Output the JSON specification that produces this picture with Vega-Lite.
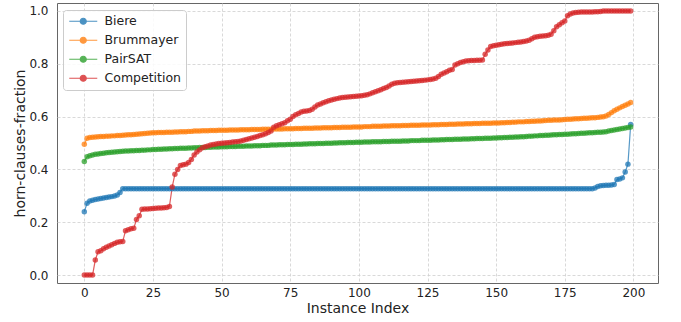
{
"$schema":"https://vega.github.io/schema/vega-lite/v6.json",
"width":601,"height":280,
"autosize":{"type":"none"},
"padding":{"left":57,"top":3,"right":23,"bottom":39},
"background":"white",
"config":{
"view":{"stroke":"#666666","strokeWidth":1},
"axis":{"grid":true,"gridDash":[3,2],"gridColor":"#cfcfcf","gridWidth":0.8,"domain":false,"ticks":false,"tickSize":0,"labelFont":"DejaVu Sans","labelFontSize":12,"labelColor":"#222222","titleFont":"DejaVu Sans","titleFontSize":14,"titleFontWeight":"normal","titleColor":"#222222","labelFlush":false},
"legend":{"labelFont":"DejaVu Sans","labelFontSize":12.5,"labelColor":"#222222","labelLimit":300}
},
"data":{"values":[
{"i":0,"s":"Biere","v":0.24},{"i":1,"s":"Biere","v":0.272},{"i":2,"s":"Biere","v":0.28},{"i":3,"s":"Biere","v":0.283},{"i":4,"s":"Biere","v":0.286},{"i":5,"s":"Biere","v":0.288},{"i":6,"s":"Biere","v":0.29},{"i":7,"s":"Biere","v":0.292},{"i":8,"s":"Biere","v":0.294},{"i":9,"s":"Biere","v":0.296},
{"i":10,"s":"Biere","v":0.297},{"i":11,"s":"Biere","v":0.299},{"i":12,"s":"Biere","v":0.303},{"i":13,"s":"Biere","v":0.313},{"i":14,"s":"Biere","v":0.327},{"i":15,"s":"Biere","v":0.327},{"i":16,"s":"Biere","v":0.327},{"i":17,"s":"Biere","v":0.327},{"i":18,"s":"Biere","v":0.327},{"i":19,"s":"Biere","v":0.327},
{"i":20,"s":"Biere","v":0.327},{"i":21,"s":"Biere","v":0.327},{"i":22,"s":"Biere","v":0.327},{"i":23,"s":"Biere","v":0.327},{"i":24,"s":"Biere","v":0.327},{"i":25,"s":"Biere","v":0.327},{"i":26,"s":"Biere","v":0.327},{"i":27,"s":"Biere","v":0.327},{"i":28,"s":"Biere","v":0.327},{"i":29,"s":"Biere","v":0.327},
{"i":30,"s":"Biere","v":0.327},{"i":31,"s":"Biere","v":0.327},{"i":32,"s":"Biere","v":0.327},{"i":33,"s":"Biere","v":0.327},{"i":34,"s":"Biere","v":0.327},{"i":35,"s":"Biere","v":0.327},{"i":36,"s":"Biere","v":0.327},{"i":37,"s":"Biere","v":0.327},{"i":38,"s":"Biere","v":0.327},{"i":39,"s":"Biere","v":0.327},
{"i":40,"s":"Biere","v":0.327},{"i":41,"s":"Biere","v":0.327},{"i":42,"s":"Biere","v":0.327},{"i":43,"s":"Biere","v":0.327},{"i":44,"s":"Biere","v":0.327},{"i":45,"s":"Biere","v":0.327},{"i":46,"s":"Biere","v":0.327},{"i":47,"s":"Biere","v":0.327},{"i":48,"s":"Biere","v":0.327},{"i":49,"s":"Biere","v":0.327},
{"i":50,"s":"Biere","v":0.327},{"i":51,"s":"Biere","v":0.327},{"i":52,"s":"Biere","v":0.327},{"i":53,"s":"Biere","v":0.327},{"i":54,"s":"Biere","v":0.327},{"i":55,"s":"Biere","v":0.327},{"i":56,"s":"Biere","v":0.327},{"i":57,"s":"Biere","v":0.327},{"i":58,"s":"Biere","v":0.327},{"i":59,"s":"Biere","v":0.327},
{"i":60,"s":"Biere","v":0.327},{"i":61,"s":"Biere","v":0.327},{"i":62,"s":"Biere","v":0.327},{"i":63,"s":"Biere","v":0.327},{"i":64,"s":"Biere","v":0.327},{"i":65,"s":"Biere","v":0.327},{"i":66,"s":"Biere","v":0.327},{"i":67,"s":"Biere","v":0.327},{"i":68,"s":"Biere","v":0.327},{"i":69,"s":"Biere","v":0.327},
{"i":70,"s":"Biere","v":0.327},{"i":71,"s":"Biere","v":0.327},{"i":72,"s":"Biere","v":0.327},{"i":73,"s":"Biere","v":0.327},{"i":74,"s":"Biere","v":0.327},{"i":75,"s":"Biere","v":0.327},{"i":76,"s":"Biere","v":0.327},{"i":77,"s":"Biere","v":0.327},{"i":78,"s":"Biere","v":0.327},{"i":79,"s":"Biere","v":0.327},
{"i":80,"s":"Biere","v":0.327},{"i":81,"s":"Biere","v":0.327},{"i":82,"s":"Biere","v":0.327},{"i":83,"s":"Biere","v":0.327},{"i":84,"s":"Biere","v":0.327},{"i":85,"s":"Biere","v":0.327},{"i":86,"s":"Biere","v":0.327},{"i":87,"s":"Biere","v":0.327},{"i":88,"s":"Biere","v":0.327},{"i":89,"s":"Biere","v":0.327},
{"i":90,"s":"Biere","v":0.327},{"i":91,"s":"Biere","v":0.327},{"i":92,"s":"Biere","v":0.327},{"i":93,"s":"Biere","v":0.327},{"i":94,"s":"Biere","v":0.327},{"i":95,"s":"Biere","v":0.327},{"i":96,"s":"Biere","v":0.327},{"i":97,"s":"Biere","v":0.327},{"i":98,"s":"Biere","v":0.327},{"i":99,"s":"Biere","v":0.327},
{"i":100,"s":"Biere","v":0.327},{"i":101,"s":"Biere","v":0.327},{"i":102,"s":"Biere","v":0.327},{"i":103,"s":"Biere","v":0.327},{"i":104,"s":"Biere","v":0.327},{"i":105,"s":"Biere","v":0.327},{"i":106,"s":"Biere","v":0.327},{"i":107,"s":"Biere","v":0.327},{"i":108,"s":"Biere","v":0.327},{"i":109,"s":"Biere","v":0.327},
{"i":110,"s":"Biere","v":0.327},{"i":111,"s":"Biere","v":0.327},{"i":112,"s":"Biere","v":0.327},{"i":113,"s":"Biere","v":0.327},{"i":114,"s":"Biere","v":0.327},{"i":115,"s":"Biere","v":0.327},{"i":116,"s":"Biere","v":0.327},{"i":117,"s":"Biere","v":0.327},{"i":118,"s":"Biere","v":0.327},{"i":119,"s":"Biere","v":0.327},
{"i":120,"s":"Biere","v":0.327},{"i":121,"s":"Biere","v":0.327},{"i":122,"s":"Biere","v":0.327},{"i":123,"s":"Biere","v":0.327},{"i":124,"s":"Biere","v":0.327},{"i":125,"s":"Biere","v":0.327},{"i":126,"s":"Biere","v":0.327},{"i":127,"s":"Biere","v":0.327},{"i":128,"s":"Biere","v":0.327},{"i":129,"s":"Biere","v":0.327},
{"i":130,"s":"Biere","v":0.327},{"i":131,"s":"Biere","v":0.327},{"i":132,"s":"Biere","v":0.327},{"i":133,"s":"Biere","v":0.327},{"i":134,"s":"Biere","v":0.327},{"i":135,"s":"Biere","v":0.327},{"i":136,"s":"Biere","v":0.327},{"i":137,"s":"Biere","v":0.327},{"i":138,"s":"Biere","v":0.327},{"i":139,"s":"Biere","v":0.327},
{"i":140,"s":"Biere","v":0.327},{"i":141,"s":"Biere","v":0.327},{"i":142,"s":"Biere","v":0.327},{"i":143,"s":"Biere","v":0.327},{"i":144,"s":"Biere","v":0.327},{"i":145,"s":"Biere","v":0.327},{"i":146,"s":"Biere","v":0.327},{"i":147,"s":"Biere","v":0.327},{"i":148,"s":"Biere","v":0.327},{"i":149,"s":"Biere","v":0.327},
{"i":150,"s":"Biere","v":0.327},{"i":151,"s":"Biere","v":0.327},{"i":152,"s":"Biere","v":0.327},{"i":153,"s":"Biere","v":0.327},{"i":154,"s":"Biere","v":0.327},{"i":155,"s":"Biere","v":0.327},{"i":156,"s":"Biere","v":0.327},{"i":157,"s":"Biere","v":0.327},{"i":158,"s":"Biere","v":0.327},{"i":159,"s":"Biere","v":0.327},
{"i":160,"s":"Biere","v":0.327},{"i":161,"s":"Biere","v":0.327},{"i":162,"s":"Biere","v":0.327},{"i":163,"s":"Biere","v":0.327},{"i":164,"s":"Biere","v":0.327},{"i":165,"s":"Biere","v":0.327},{"i":166,"s":"Biere","v":0.327},{"i":167,"s":"Biere","v":0.327},{"i":168,"s":"Biere","v":0.327},{"i":169,"s":"Biere","v":0.327},
{"i":170,"s":"Biere","v":0.327},{"i":171,"s":"Biere","v":0.327},{"i":172,"s":"Biere","v":0.327},{"i":173,"s":"Biere","v":0.327},{"i":174,"s":"Biere","v":0.327},{"i":175,"s":"Biere","v":0.327},{"i":176,"s":"Biere","v":0.327},{"i":177,"s":"Biere","v":0.327},{"i":178,"s":"Biere","v":0.327},{"i":179,"s":"Biere","v":0.327},
{"i":180,"s":"Biere","v":0.327},{"i":181,"s":"Biere","v":0.327},{"i":182,"s":"Biere","v":0.327},{"i":183,"s":"Biere","v":0.327},{"i":184,"s":"Biere","v":0.327},{"i":185,"s":"Biere","v":0.327},{"i":186,"s":"Biere","v":0.33},{"i":187,"s":"Biere","v":0.335},{"i":188,"s":"Biere","v":0.338},{"i":189,"s":"Biere","v":0.339},
{"i":190,"s":"Biere","v":0.34},{"i":191,"s":"Biere","v":0.34},{"i":192,"s":"Biere","v":0.341},{"i":193,"s":"Biere","v":0.343},{"i":194,"s":"Biere","v":0.362},{"i":195,"s":"Biere","v":0.364},{"i":196,"s":"Biere","v":0.368},{"i":197,"s":"Biere","v":0.39},{"i":198,"s":"Biere","v":0.42},{"i":199,"s":"Biere","v":0.57},

{"i":0,"s":"Brummayer","v":0.495},{"i":1,"s":"Brummayer","v":0.518},{"i":2,"s":"Brummayer","v":0.521},{"i":3,"s":"Brummayer","v":0.522},{"i":4,"s":"Brummayer","v":0.523},{"i":5,"s":"Brummayer","v":0.524},{"i":6,"s":"Brummayer","v":0.525},{"i":7,"s":"Brummayer","v":0.525},{"i":8,"s":"Brummayer","v":0.526},{"i":9,"s":"Brummayer","v":0.526},
{"i":10,"s":"Brummayer","v":0.527},{"i":11,"s":"Brummayer","v":0.527},{"i":12,"s":"Brummayer","v":0.528},{"i":13,"s":"Brummayer","v":0.528},{"i":14,"s":"Brummayer","v":0.529},{"i":15,"s":"Brummayer","v":0.53},{"i":16,"s":"Brummayer","v":0.531},{"i":17,"s":"Brummayer","v":0.531},{"i":18,"s":"Brummayer","v":0.532},{"i":19,"s":"Brummayer","v":0.533},
{"i":20,"s":"Brummayer","v":0.534},{"i":21,"s":"Brummayer","v":0.535},{"i":22,"s":"Brummayer","v":0.536},{"i":23,"s":"Brummayer","v":0.537},{"i":24,"s":"Brummayer","v":0.538},{"i":25,"s":"Brummayer","v":0.539},{"i":26,"s":"Brummayer","v":0.539},{"i":27,"s":"Brummayer","v":0.54},{"i":28,"s":"Brummayer","v":0.54},{"i":29,"s":"Brummayer","v":0.54},
{"i":30,"s":"Brummayer","v":0.541},{"i":31,"s":"Brummayer","v":0.541},{"i":32,"s":"Brummayer","v":0.541},{"i":33,"s":"Brummayer","v":0.542},{"i":34,"s":"Brummayer","v":0.542},{"i":35,"s":"Brummayer","v":0.543},{"i":36,"s":"Brummayer","v":0.543},{"i":37,"s":"Brummayer","v":0.543},{"i":38,"s":"Brummayer","v":0.544},{"i":39,"s":"Brummayer","v":0.544},
{"i":40,"s":"Brummayer","v":0.545},{"i":41,"s":"Brummayer","v":0.545},{"i":42,"s":"Brummayer","v":0.545},{"i":43,"s":"Brummayer","v":0.546},{"i":44,"s":"Brummayer","v":0.546},{"i":45,"s":"Brummayer","v":0.546},{"i":46,"s":"Brummayer","v":0.547},{"i":47,"s":"Brummayer","v":0.547},{"i":48,"s":"Brummayer","v":0.547},{"i":49,"s":"Brummayer","v":0.548},
{"i":50,"s":"Brummayer","v":0.548},{"i":51,"s":"Brummayer","v":0.548},{"i":52,"s":"Brummayer","v":0.548},{"i":53,"s":"Brummayer","v":0.549},{"i":54,"s":"Brummayer","v":0.549},{"i":55,"s":"Brummayer","v":0.549},{"i":56,"s":"Brummayer","v":0.549},{"i":57,"s":"Brummayer","v":0.55},{"i":58,"s":"Brummayer","v":0.55},{"i":59,"s":"Brummayer","v":0.55},
{"i":60,"s":"Brummayer","v":0.55},{"i":61,"s":"Brummayer","v":0.551},{"i":62,"s":"Brummayer","v":0.551},{"i":63,"s":"Brummayer","v":0.551},{"i":64,"s":"Brummayer","v":0.551},{"i":65,"s":"Brummayer","v":0.552},{"i":66,"s":"Brummayer","v":0.552},{"i":67,"s":"Brummayer","v":0.552},{"i":68,"s":"Brummayer","v":0.552},{"i":69,"s":"Brummayer","v":0.553},
{"i":70,"s":"Brummayer","v":0.553},{"i":71,"s":"Brummayer","v":0.553},{"i":72,"s":"Brummayer","v":0.553},{"i":73,"s":"Brummayer","v":0.554},{"i":74,"s":"Brummayer","v":0.554},{"i":75,"s":"Brummayer","v":0.554},{"i":76,"s":"Brummayer","v":0.554},{"i":77,"s":"Brummayer","v":0.555},{"i":78,"s":"Brummayer","v":0.555},{"i":79,"s":"Brummayer","v":0.555},
{"i":80,"s":"Brummayer","v":0.556},{"i":81,"s":"Brummayer","v":0.556},{"i":82,"s":"Brummayer","v":0.556},{"i":83,"s":"Brummayer","v":0.556},{"i":84,"s":"Brummayer","v":0.557},{"i":85,"s":"Brummayer","v":0.557},{"i":86,"s":"Brummayer","v":0.557},{"i":87,"s":"Brummayer","v":0.558},{"i":88,"s":"Brummayer","v":0.558},{"i":89,"s":"Brummayer","v":0.558},
{"i":90,"s":"Brummayer","v":0.558},{"i":91,"s":"Brummayer","v":0.559},{"i":92,"s":"Brummayer","v":0.559},{"i":93,"s":"Brummayer","v":0.559},{"i":94,"s":"Brummayer","v":0.56},{"i":95,"s":"Brummayer","v":0.56},{"i":96,"s":"Brummayer","v":0.56},{"i":97,"s":"Brummayer","v":0.56},{"i":98,"s":"Brummayer","v":0.561},{"i":99,"s":"Brummayer","v":0.561},
{"i":100,"s":"Brummayer","v":0.561},{"i":101,"s":"Brummayer","v":0.561},{"i":102,"s":"Brummayer","v":0.562},{"i":103,"s":"Brummayer","v":0.562},{"i":104,"s":"Brummayer","v":0.562},{"i":105,"s":"Brummayer","v":0.563},{"i":106,"s":"Brummayer","v":0.563},{"i":107,"s":"Brummayer","v":0.563},{"i":108,"s":"Brummayer","v":0.563},{"i":109,"s":"Brummayer","v":0.564},
{"i":110,"s":"Brummayer","v":0.564},{"i":111,"s":"Brummayer","v":0.564},{"i":112,"s":"Brummayer","v":0.565},{"i":113,"s":"Brummayer","v":0.565},{"i":114,"s":"Brummayer","v":0.565},{"i":115,"s":"Brummayer","v":0.565},{"i":116,"s":"Brummayer","v":0.566},{"i":117,"s":"Brummayer","v":0.566},{"i":118,"s":"Brummayer","v":0.566},{"i":119,"s":"Brummayer","v":0.567},
{"i":120,"s":"Brummayer","v":0.567},{"i":121,"s":"Brummayer","v":0.567},{"i":122,"s":"Brummayer","v":0.567},{"i":123,"s":"Brummayer","v":0.568},{"i":124,"s":"Brummayer","v":0.568},{"i":125,"s":"Brummayer","v":0.568},{"i":126,"s":"Brummayer","v":0.568},{"i":127,"s":"Brummayer","v":0.569},{"i":128,"s":"Brummayer","v":0.569},{"i":129,"s":"Brummayer","v":0.569},
{"i":130,"s":"Brummayer","v":0.57},{"i":131,"s":"Brummayer","v":0.57},{"i":132,"s":"Brummayer","v":0.57},{"i":133,"s":"Brummayer","v":0.571},{"i":134,"s":"Brummayer","v":0.571},{"i":135,"s":"Brummayer","v":0.571},{"i":136,"s":"Brummayer","v":0.572},{"i":137,"s":"Brummayer","v":0.572},{"i":138,"s":"Brummayer","v":0.572},{"i":139,"s":"Brummayer","v":0.573},
{"i":140,"s":"Brummayer","v":0.573},{"i":141,"s":"Brummayer","v":0.573},{"i":142,"s":"Brummayer","v":0.574},{"i":143,"s":"Brummayer","v":0.574},{"i":144,"s":"Brummayer","v":0.574},{"i":145,"s":"Brummayer","v":0.575},{"i":146,"s":"Brummayer","v":0.575},{"i":147,"s":"Brummayer","v":0.575},{"i":148,"s":"Brummayer","v":0.575},{"i":149,"s":"Brummayer","v":0.576},
{"i":150,"s":"Brummayer","v":0.576},{"i":151,"s":"Brummayer","v":0.576},{"i":152,"s":"Brummayer","v":0.577},{"i":153,"s":"Brummayer","v":0.577},{"i":154,"s":"Brummayer","v":0.578},{"i":155,"s":"Brummayer","v":0.578},{"i":156,"s":"Brummayer","v":0.579},{"i":157,"s":"Brummayer","v":0.579},{"i":158,"s":"Brummayer","v":0.58},{"i":159,"s":"Brummayer","v":0.58},
{"i":160,"s":"Brummayer","v":0.58},{"i":161,"s":"Brummayer","v":0.581},{"i":162,"s":"Brummayer","v":0.581},{"i":163,"s":"Brummayer","v":0.582},{"i":164,"s":"Brummayer","v":0.582},{"i":165,"s":"Brummayer","v":0.583},{"i":166,"s":"Brummayer","v":0.583},{"i":167,"s":"Brummayer","v":0.584},{"i":168,"s":"Brummayer","v":0.585},{"i":169,"s":"Brummayer","v":0.586},
{"i":170,"s":"Brummayer","v":0.586},{"i":171,"s":"Brummayer","v":0.587},{"i":172,"s":"Brummayer","v":0.587},{"i":173,"s":"Brummayer","v":0.587},{"i":174,"s":"Brummayer","v":0.588},{"i":175,"s":"Brummayer","v":0.589},{"i":176,"s":"Brummayer","v":0.59},{"i":177,"s":"Brummayer","v":0.59},{"i":178,"s":"Brummayer","v":0.591},{"i":179,"s":"Brummayer","v":0.592},
{"i":180,"s":"Brummayer","v":0.592},{"i":181,"s":"Brummayer","v":0.593},{"i":182,"s":"Brummayer","v":0.594},{"i":183,"s":"Brummayer","v":0.594},{"i":184,"s":"Brummayer","v":0.595},{"i":185,"s":"Brummayer","v":0.596},{"i":186,"s":"Brummayer","v":0.596},{"i":187,"s":"Brummayer","v":0.597},{"i":188,"s":"Brummayer","v":0.598},{"i":189,"s":"Brummayer","v":0.599},
{"i":190,"s":"Brummayer","v":0.602},{"i":191,"s":"Brummayer","v":0.608},{"i":192,"s":"Brummayer","v":0.615},{"i":193,"s":"Brummayer","v":0.622},{"i":194,"s":"Brummayer","v":0.628},{"i":195,"s":"Brummayer","v":0.633},{"i":196,"s":"Brummayer","v":0.638},{"i":197,"s":"Brummayer","v":0.643},{"i":198,"s":"Brummayer","v":0.648},{"i":199,"s":"Brummayer","v":0.653},

{"i":0,"s":"PairSAT","v":0.43},{"i":1,"s":"PairSAT","v":0.448},{"i":2,"s":"PairSAT","v":0.452},{"i":3,"s":"PairSAT","v":0.455},{"i":4,"s":"PairSAT","v":0.457},{"i":5,"s":"PairSAT","v":0.458},{"i":6,"s":"PairSAT","v":0.46},{"i":7,"s":"PairSAT","v":0.461},{"i":8,"s":"PairSAT","v":0.463},{"i":9,"s":"PairSAT","v":0.464},
{"i":10,"s":"PairSAT","v":0.465},{"i":11,"s":"PairSAT","v":0.466},{"i":12,"s":"PairSAT","v":0.467},{"i":13,"s":"PairSAT","v":0.468},{"i":14,"s":"PairSAT","v":0.469},{"i":15,"s":"PairSAT","v":0.47},{"i":16,"s":"PairSAT","v":0.47},{"i":17,"s":"PairSAT","v":0.471},{"i":18,"s":"PairSAT","v":0.471},{"i":19,"s":"PairSAT","v":0.472},
{"i":20,"s":"PairSAT","v":0.472},{"i":21,"s":"PairSAT","v":0.473},{"i":22,"s":"PairSAT","v":0.473},{"i":23,"s":"PairSAT","v":0.474},{"i":24,"s":"PairSAT","v":0.474},{"i":25,"s":"PairSAT","v":0.475},{"i":26,"s":"PairSAT","v":0.475},{"i":27,"s":"PairSAT","v":0.476},{"i":28,"s":"PairSAT","v":0.476},{"i":29,"s":"PairSAT","v":0.477},
{"i":30,"s":"PairSAT","v":0.477},{"i":31,"s":"PairSAT","v":0.478},{"i":32,"s":"PairSAT","v":0.478},{"i":33,"s":"PairSAT","v":0.479},{"i":34,"s":"PairSAT","v":0.479},{"i":35,"s":"PairSAT","v":0.48},{"i":36,"s":"PairSAT","v":0.48},{"i":37,"s":"PairSAT","v":0.48},{"i":38,"s":"PairSAT","v":0.481},{"i":39,"s":"PairSAT","v":0.481},
{"i":40,"s":"PairSAT","v":0.482},{"i":41,"s":"PairSAT","v":0.482},{"i":42,"s":"PairSAT","v":0.483},{"i":43,"s":"PairSAT","v":0.483},{"i":44,"s":"PairSAT","v":0.483},{"i":45,"s":"PairSAT","v":0.484},{"i":46,"s":"PairSAT","v":0.484},{"i":47,"s":"PairSAT","v":0.485},{"i":48,"s":"PairSAT","v":0.485},{"i":49,"s":"PairSAT","v":0.485},
{"i":50,"s":"PairSAT","v":0.486},{"i":51,"s":"PairSAT","v":0.486},{"i":52,"s":"PairSAT","v":0.486},{"i":53,"s":"PairSAT","v":0.487},{"i":54,"s":"PairSAT","v":0.487},{"i":55,"s":"PairSAT","v":0.487},{"i":56,"s":"PairSAT","v":0.488},{"i":57,"s":"PairSAT","v":0.488},{"i":58,"s":"PairSAT","v":0.488},{"i":59,"s":"PairSAT","v":0.489},
{"i":60,"s":"PairSAT","v":0.489},{"i":61,"s":"PairSAT","v":0.489},{"i":62,"s":"PairSAT","v":0.49},{"i":63,"s":"PairSAT","v":0.49},{"i":64,"s":"PairSAT","v":0.49},{"i":65,"s":"PairSAT","v":0.491},{"i":66,"s":"PairSAT","v":0.491},{"i":67,"s":"PairSAT","v":0.491},{"i":68,"s":"PairSAT","v":0.492},{"i":69,"s":"PairSAT","v":0.492},
{"i":70,"s":"PairSAT","v":0.492},{"i":71,"s":"PairSAT","v":0.493},{"i":72,"s":"PairSAT","v":0.493},{"i":73,"s":"PairSAT","v":0.493},{"i":74,"s":"PairSAT","v":0.494},{"i":75,"s":"PairSAT","v":0.494},{"i":76,"s":"PairSAT","v":0.494},{"i":77,"s":"PairSAT","v":0.495},{"i":78,"s":"PairSAT","v":0.495},{"i":79,"s":"PairSAT","v":0.495},
{"i":80,"s":"PairSAT","v":0.496},{"i":81,"s":"PairSAT","v":0.496},{"i":82,"s":"PairSAT","v":0.497},{"i":83,"s":"PairSAT","v":0.497},{"i":84,"s":"PairSAT","v":0.497},{"i":85,"s":"PairSAT","v":0.498},{"i":86,"s":"PairSAT","v":0.498},{"i":87,"s":"PairSAT","v":0.498},{"i":88,"s":"PairSAT","v":0.499},{"i":89,"s":"PairSAT","v":0.499},
{"i":90,"s":"PairSAT","v":0.499},{"i":91,"s":"PairSAT","v":0.5},{"i":92,"s":"PairSAT","v":0.5},{"i":93,"s":"PairSAT","v":0.501},{"i":94,"s":"PairSAT","v":0.501},{"i":95,"s":"PairSAT","v":0.501},{"i":96,"s":"PairSAT","v":0.502},{"i":97,"s":"PairSAT","v":0.502},{"i":98,"s":"PairSAT","v":0.502},{"i":99,"s":"PairSAT","v":0.503},
{"i":100,"s":"PairSAT","v":0.503},{"i":101,"s":"PairSAT","v":0.503},{"i":102,"s":"PairSAT","v":0.504},{"i":103,"s":"PairSAT","v":0.504},{"i":104,"s":"PairSAT","v":0.504},{"i":105,"s":"PairSAT","v":0.505},{"i":106,"s":"PairSAT","v":0.505},{"i":107,"s":"PairSAT","v":0.505},{"i":108,"s":"PairSAT","v":0.505},{"i":109,"s":"PairSAT","v":0.506},
{"i":110,"s":"PairSAT","v":0.506},{"i":111,"s":"PairSAT","v":0.506},{"i":112,"s":"PairSAT","v":0.507},{"i":113,"s":"PairSAT","v":0.507},{"i":114,"s":"PairSAT","v":0.507},{"i":115,"s":"PairSAT","v":0.507},{"i":116,"s":"PairSAT","v":0.508},{"i":117,"s":"PairSAT","v":0.508},{"i":118,"s":"PairSAT","v":0.508},{"i":119,"s":"PairSAT","v":0.509},
{"i":120,"s":"PairSAT","v":0.509},{"i":121,"s":"PairSAT","v":0.509},{"i":122,"s":"PairSAT","v":0.509},{"i":123,"s":"PairSAT","v":0.51},{"i":124,"s":"PairSAT","v":0.51},{"i":125,"s":"PairSAT","v":0.51},{"i":126,"s":"PairSAT","v":0.51},{"i":127,"s":"PairSAT","v":0.511},{"i":128,"s":"PairSAT","v":0.511},{"i":129,"s":"PairSAT","v":0.511},
{"i":130,"s":"PairSAT","v":0.512},{"i":131,"s":"PairSAT","v":0.512},{"i":132,"s":"PairSAT","v":0.513},{"i":133,"s":"PairSAT","v":0.513},{"i":134,"s":"PairSAT","v":0.513},{"i":135,"s":"PairSAT","v":0.514},{"i":136,"s":"PairSAT","v":0.514},{"i":137,"s":"PairSAT","v":0.514},{"i":138,"s":"PairSAT","v":0.515},{"i":139,"s":"PairSAT","v":0.515},
{"i":140,"s":"PairSAT","v":0.515},{"i":141,"s":"PairSAT","v":0.516},{"i":142,"s":"PairSAT","v":0.516},{"i":143,"s":"PairSAT","v":0.517},{"i":144,"s":"PairSAT","v":0.517},{"i":145,"s":"PairSAT","v":0.517},{"i":146,"s":"PairSAT","v":0.518},{"i":147,"s":"PairSAT","v":0.518},{"i":148,"s":"PairSAT","v":0.518},{"i":149,"s":"PairSAT","v":0.519},
{"i":150,"s":"PairSAT","v":0.519},{"i":151,"s":"PairSAT","v":0.52},{"i":152,"s":"PairSAT","v":0.52},{"i":153,"s":"PairSAT","v":0.521},{"i":154,"s":"PairSAT","v":0.521},{"i":155,"s":"PairSAT","v":0.522},{"i":156,"s":"PairSAT","v":0.522},{"i":157,"s":"PairSAT","v":0.523},{"i":158,"s":"PairSAT","v":0.523},{"i":159,"s":"PairSAT","v":0.524},
{"i":160,"s":"PairSAT","v":0.524},{"i":161,"s":"PairSAT","v":0.525},{"i":162,"s":"PairSAT","v":0.526},{"i":163,"s":"PairSAT","v":0.526},{"i":164,"s":"PairSAT","v":0.527},{"i":165,"s":"PairSAT","v":0.527},{"i":166,"s":"PairSAT","v":0.528},{"i":167,"s":"PairSAT","v":0.528},{"i":168,"s":"PairSAT","v":0.529},{"i":169,"s":"PairSAT","v":0.529},
{"i":170,"s":"PairSAT","v":0.53},{"i":171,"s":"PairSAT","v":0.531},{"i":172,"s":"PairSAT","v":0.531},{"i":173,"s":"PairSAT","v":0.532},{"i":174,"s":"PairSAT","v":0.532},{"i":175,"s":"PairSAT","v":0.533},{"i":176,"s":"PairSAT","v":0.533},{"i":177,"s":"PairSAT","v":0.534},{"i":178,"s":"PairSAT","v":0.535},{"i":179,"s":"PairSAT","v":0.535},
{"i":180,"s":"PairSAT","v":0.536},{"i":181,"s":"PairSAT","v":0.537},{"i":182,"s":"PairSAT","v":0.537},{"i":183,"s":"PairSAT","v":0.538},{"i":184,"s":"PairSAT","v":0.539},{"i":185,"s":"PairSAT","v":0.539},{"i":186,"s":"PairSAT","v":0.54},{"i":187,"s":"PairSAT","v":0.541},{"i":188,"s":"PairSAT","v":0.541},{"i":189,"s":"PairSAT","v":0.542},
{"i":190,"s":"PairSAT","v":0.543},{"i":191,"s":"PairSAT","v":0.545},{"i":192,"s":"PairSAT","v":0.547},{"i":193,"s":"PairSAT","v":0.549},{"i":194,"s":"PairSAT","v":0.551},{"i":195,"s":"PairSAT","v":0.553},{"i":196,"s":"PairSAT","v":0.555},{"i":197,"s":"PairSAT","v":0.557},{"i":198,"s":"PairSAT","v":0.559},{"i":199,"s":"PairSAT","v":0.561},

{"i":0,"s":"Competition","v":0},{"i":1,"s":"Competition","v":0},{"i":2,"s":"Competition","v":0},{"i":3,"s":"Competition","v":0},{"i":4,"s":"Competition","v":0.057},{"i":5,"s":"Competition","v":0.088},{"i":6,"s":"Competition","v":0.092},{"i":7,"s":"Competition","v":0.1},{"i":8,"s":"Competition","v":0.105},{"i":9,"s":"Competition","v":0.11},
{"i":10,"s":"Competition","v":0.115},{"i":11,"s":"Competition","v":0.12},{"i":12,"s":"Competition","v":0.124},{"i":13,"s":"Competition","v":0.126},{"i":14,"s":"Competition","v":0.127},{"i":15,"s":"Competition","v":0.168},{"i":16,"s":"Competition","v":0.172},{"i":17,"s":"Competition","v":0.175},{"i":18,"s":"Competition","v":0.177},{"i":19,"s":"Competition","v":0.21},
{"i":20,"s":"Competition","v":0.225},{"i":21,"s":"Competition","v":0.249},{"i":22,"s":"Competition","v":0.25},{"i":23,"s":"Competition","v":0.25},{"i":24,"s":"Competition","v":0.251},{"i":25,"s":"Competition","v":0.252},{"i":26,"s":"Competition","v":0.253},{"i":27,"s":"Competition","v":0.254},{"i":28,"s":"Competition","v":0.254},{"i":29,"s":"Competition","v":0.255},
{"i":30,"s":"Competition","v":0.256},{"i":31,"s":"Competition","v":0.26},{"i":32,"s":"Competition","v":0.333},{"i":33,"s":"Competition","v":0.382},{"i":34,"s":"Competition","v":0.4},{"i":35,"s":"Competition","v":0.415},{"i":36,"s":"Competition","v":0.418},{"i":37,"s":"Competition","v":0.42},{"i":38,"s":"Competition","v":0.426},{"i":39,"s":"Competition","v":0.438},
{"i":40,"s":"Competition","v":0.455},{"i":41,"s":"Competition","v":0.466},{"i":42,"s":"Competition","v":0.474},{"i":43,"s":"Competition","v":0.482},{"i":44,"s":"Competition","v":0.486},{"i":45,"s":"Competition","v":0.489},{"i":46,"s":"Competition","v":0.492},{"i":47,"s":"Competition","v":0.494},{"i":48,"s":"Competition","v":0.496},{"i":49,"s":"Competition","v":0.498},
{"i":50,"s":"Competition","v":0.499},{"i":51,"s":"Competition","v":0.5},{"i":52,"s":"Competition","v":0.501},{"i":53,"s":"Competition","v":0.502},{"i":54,"s":"Competition","v":0.504},{"i":55,"s":"Competition","v":0.505},{"i":56,"s":"Competition","v":0.506},{"i":57,"s":"Competition","v":0.508},{"i":58,"s":"Competition","v":0.51},{"i":59,"s":"Competition","v":0.513},
{"i":60,"s":"Competition","v":0.516},{"i":61,"s":"Competition","v":0.519},{"i":62,"s":"Competition","v":0.522},{"i":63,"s":"Competition","v":0.525},{"i":64,"s":"Competition","v":0.528},{"i":65,"s":"Competition","v":0.531},{"i":66,"s":"Competition","v":0.535},{"i":67,"s":"Competition","v":0.54},{"i":68,"s":"Competition","v":0.545},{"i":69,"s":"Competition","v":0.56},
{"i":70,"s":"Competition","v":0.565},{"i":71,"s":"Competition","v":0.569},{"i":72,"s":"Competition","v":0.573},{"i":73,"s":"Competition","v":0.577},{"i":74,"s":"Competition","v":0.584},{"i":75,"s":"Competition","v":0.59},{"i":76,"s":"Competition","v":0.6},{"i":77,"s":"Competition","v":0.607},{"i":78,"s":"Competition","v":0.612},{"i":79,"s":"Competition","v":0.617},
{"i":80,"s":"Competition","v":0.62},{"i":81,"s":"Competition","v":0.621},{"i":82,"s":"Competition","v":0.623},{"i":83,"s":"Competition","v":0.628},{"i":84,"s":"Competition","v":0.636},{"i":85,"s":"Competition","v":0.644},{"i":86,"s":"Competition","v":0.648},{"i":87,"s":"Competition","v":0.652},{"i":88,"s":"Competition","v":0.656},{"i":89,"s":"Competition","v":0.66},
{"i":90,"s":"Competition","v":0.663},{"i":91,"s":"Competition","v":0.666},{"i":92,"s":"Competition","v":0.668},{"i":93,"s":"Competition","v":0.67},{"i":94,"s":"Competition","v":0.672},{"i":95,"s":"Competition","v":0.673},{"i":96,"s":"Competition","v":0.674},{"i":97,"s":"Competition","v":0.675},{"i":98,"s":"Competition","v":0.676},{"i":99,"s":"Competition","v":0.677},
{"i":100,"s":"Competition","v":0.678},{"i":101,"s":"Competition","v":0.679},{"i":102,"s":"Competition","v":0.681},{"i":103,"s":"Competition","v":0.683},{"i":104,"s":"Competition","v":0.686},{"i":105,"s":"Competition","v":0.69},{"i":106,"s":"Competition","v":0.694},{"i":107,"s":"Competition","v":0.698},{"i":108,"s":"Competition","v":0.702},{"i":109,"s":"Competition","v":0.706},
{"i":110,"s":"Competition","v":0.71},{"i":111,"s":"Competition","v":0.716},{"i":112,"s":"Competition","v":0.722},{"i":113,"s":"Competition","v":0.726},{"i":114,"s":"Competition","v":0.728},{"i":115,"s":"Competition","v":0.729},{"i":116,"s":"Competition","v":0.73},{"i":117,"s":"Competition","v":0.731},{"i":118,"s":"Competition","v":0.732},{"i":119,"s":"Competition","v":0.733},
{"i":120,"s":"Competition","v":0.734},{"i":121,"s":"Competition","v":0.735},{"i":122,"s":"Competition","v":0.736},{"i":123,"s":"Competition","v":0.737},{"i":124,"s":"Competition","v":0.738},{"i":125,"s":"Competition","v":0.739},{"i":126,"s":"Competition","v":0.74},{"i":127,"s":"Competition","v":0.742},{"i":128,"s":"Competition","v":0.745},{"i":129,"s":"Competition","v":0.752},
{"i":130,"s":"Competition","v":0.76},{"i":131,"s":"Competition","v":0.765},{"i":132,"s":"Competition","v":0.77},{"i":133,"s":"Competition","v":0.775},{"i":134,"s":"Competition","v":0.778},{"i":135,"s":"Competition","v":0.795},{"i":136,"s":"Competition","v":0.8},{"i":137,"s":"Competition","v":0.805},{"i":138,"s":"Competition","v":0.808},{"i":139,"s":"Competition","v":0.81},
{"i":140,"s":"Competition","v":0.811},{"i":141,"s":"Competition","v":0.812},{"i":142,"s":"Competition","v":0.812},{"i":143,"s":"Competition","v":0.813},{"i":144,"s":"Competition","v":0.813},{"i":145,"s":"Competition","v":0.814},{"i":146,"s":"Competition","v":0.836},{"i":147,"s":"Competition","v":0.852},{"i":148,"s":"Competition","v":0.865},{"i":149,"s":"Competition","v":0.868},
{"i":150,"s":"Competition","v":0.87},{"i":151,"s":"Competition","v":0.872},{"i":152,"s":"Competition","v":0.874},{"i":153,"s":"Competition","v":0.876},{"i":154,"s":"Competition","v":0.877},{"i":155,"s":"Competition","v":0.878},{"i":156,"s":"Competition","v":0.879},{"i":157,"s":"Competition","v":0.88},{"i":158,"s":"Competition","v":0.881},{"i":159,"s":"Competition","v":0.882},
{"i":160,"s":"Competition","v":0.884},{"i":161,"s":"Competition","v":0.886},{"i":162,"s":"Competition","v":0.889},{"i":163,"s":"Competition","v":0.895},{"i":164,"s":"Competition","v":0.9},{"i":165,"s":"Competition","v":0.902},{"i":166,"s":"Competition","v":0.904},{"i":167,"s":"Competition","v":0.905},{"i":168,"s":"Competition","v":0.906},{"i":169,"s":"Competition","v":0.908},
{"i":170,"s":"Competition","v":0.912},{"i":171,"s":"Competition","v":0.925},{"i":172,"s":"Competition","v":0.94},{"i":173,"s":"Competition","v":0.948},{"i":174,"s":"Competition","v":0.955},{"i":175,"s":"Competition","v":0.962},{"i":176,"s":"Competition","v":0.982},{"i":177,"s":"Competition","v":0.988},{"i":178,"s":"Competition","v":0.992},{"i":179,"s":"Competition","v":0.994},
{"i":180,"s":"Competition","v":0.995},{"i":181,"s":"Competition","v":0.996},{"i":182,"s":"Competition","v":0.996},{"i":183,"s":"Competition","v":0.996},{"i":184,"s":"Competition","v":0.996},{"i":185,"s":"Competition","v":0.996},{"i":186,"s":"Competition","v":0.997},{"i":187,"s":"Competition","v":0.997},{"i":188,"s":"Competition","v":0.998},{"i":189,"s":"Competition","v":1},
{"i":190,"s":"Competition","v":1},{"i":191,"s":"Competition","v":1},{"i":192,"s":"Competition","v":1},{"i":193,"s":"Competition","v":1},{"i":194,"s":"Competition","v":1},{"i":195,"s":"Competition","v":1},{"i":196,"s":"Competition","v":1},{"i":197,"s":"Competition","v":1},{"i":198,"s":"Competition","v":1},{"i":199,"s":"Competition","v":1}
]},
"mark":{"type":"line","strokeWidth":1.2,"opacity":0.75,"point":{"filled":true,"size":30,"opacity":0.75}},
"encoding":{
"x":{"field":"i","type":"quantitative","scale":{"domain":[-9.95,208.95],"nice":false,"zero":false},"axis":{"values":[0,25,50,75,100,125,150,175,200],"title":"Instance Index","labelPadding":4,"titlePadding":3}},
"y":{"field":"v","type":"quantitative","scale":{"domain":[-0.03,1.03],"nice":false,"zero":false},"axis":{"values":[0,0.2,0.4,0.6,0.8,1.0],"format":".1f","title":"horn-clauses-fraction","labelPadding":9,"titlePadding":1}},
"color":{"field":"s","type":"nominal","scale":{"domain":["Biere","Brummayer","PairSAT","Competition"],"range":["#1f77b4","#ff7f0e","#2ca02c","#d62728"]},
"legend":{"title":null,"orient":"none","legendX":6,"legendY":7,"padding":5,"fillColor":"rgba(255,255,255,0.85)","strokeColor":"#cccccc","cornerRadius":3,"labelFont":"DejaVu Sans","labelFontSize":12.5,"labelColor":"#222222","labelLimit":300,"symbolType":"M-2.8,0L2.8,0M-0.6,0A0.6,0.6 0 1,1 0.6,0A0.6,0.6 0 1,1 -0.6,0Z","symbolSize":100,"symbolStrokeWidth":1.2,"symbolOpacity":0.8,"symbolOffset":9,"labelOffset":15,"rowPadding":6,
"encode":{"symbols":{"update":{"fill":{"scale":"color","field":"value"},"stroke":{"scale":"color","field":"value"}}}}}}
}
}
